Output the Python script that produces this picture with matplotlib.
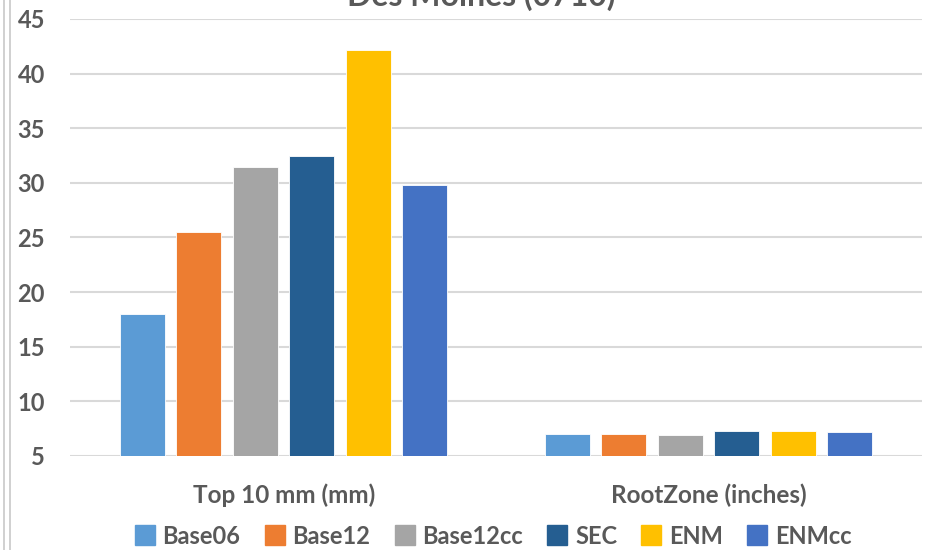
import matplotlib.pyplot as plt
import numpy as np
from matplotlib.lines import Line2D

plt.rcParams['font.family'] = ['Lato', 'DejaVu Sans']

groups = ["Top 10 mm (mm)", "RootZone (inches)"]
series = ["Base06", "Base12", "Base12cc", "SEC", "ENM", "ENMcc"]
base06 = [18.0, 7.0]
base12 = [25.5, 7.0]
base12cc = [31.45, 6.9]
sec = [32.45, 7.3]
enm = [42.2, 7.3]
enmcc = [29.8, 7.2]
values = [base06, base12, base12cc, sec, enm, enmcc]
colors = ["#5B9BD5", "#ED7D31", "#A5A5A5", "#255E91", "#FFC000", "#4472C4"]
yticks = [5, 10, 15, 20, 25, 30, 35, 40, 45]

txt = "#595959"
fig = plt.figure(figsize=(9.32, 5.5), dpi=100)
ax = fig.add_axes([70 / 932, 0.171, 852 / 932, 0.7945])

x = np.arange(len(groups))
slot = 0.133
width = 0.106
for i, (name, vals, c) in enumerate(zip(series, values, colors)):
    ax.bar(x + (i - 2.5) * slot, vals, width, color=c, label=name,
           edgecolor="white", linewidth=0.6, zorder=3)

ax.set_ylim(5, 45)
ax.set_xlim(-0.503, 1.503)
ax.set_yticks(yticks)
ax.set_xticks(x)
ax.set_xticklabels(groups)
ax.grid(axis="y", color="#D9D9D9", linewidth=1.5, zorder=0)
for s in ax.spines.values():
    s.set_visible(False)
ax.tick_params(axis="both", length=0, labelsize=17, colors=txt)
ax.tick_params(axis="x", labelsize=17.5)
ax.tick_params(axis="y", pad=18)
ax.tick_params(axis="x", pad=20)
for lab in ax.get_xticklabels() + ax.get_yticklabels():
    lab.set_fontweight("bold")

fig.text(481 / 932, 1 - 6 / 550, "Des Moines (0710)", ha="center", va="baseline",
         fontsize=23, fontweight="bold", color=txt)

handles = [Line2D([], [], marker="s", linestyle="", markersize=14, color=c) for c in colors]
leg = fig.legend(handles, series, loc="center", bbox_to_anchor=(494 / 932, 1 - 536 / 550),
                 ncol=6, frameon=False, handlelength=0.7, handletextpad=0.4,
                 columnspacing=1.1, prop={"size": 17, "weight": "bold"})
for t in leg.get_texts():
    t.set_color(txt)

# double border at the left edge
for xp in (4 / 932, 10 / 932):
    fig.add_artist(Line2D([xp, xp], [0, 1], color="#C8C8C8", linewidth=1.2,
                          transform=fig.transFigure))

fig.savefig("out.png", dpi=100)
